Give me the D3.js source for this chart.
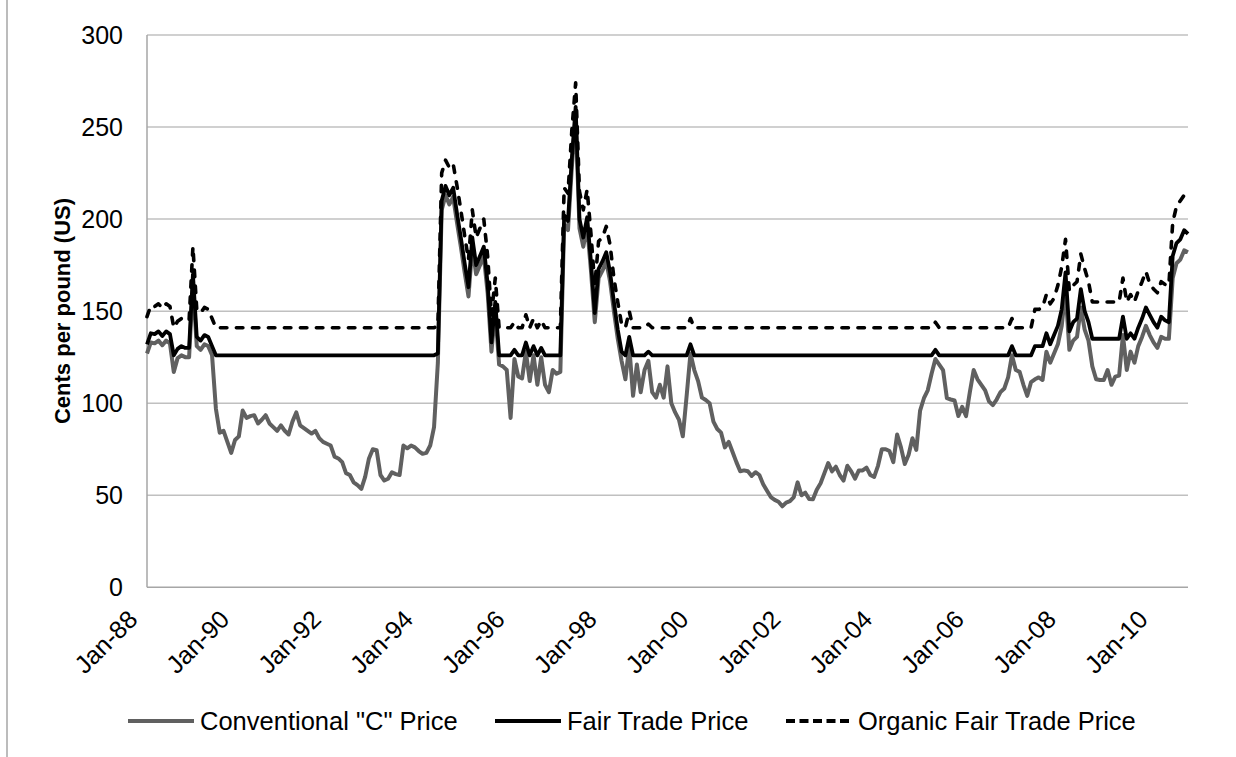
<!DOCTYPE html>
<html lang="en">
<head>
<meta charset="utf-8">
<title>Coffee prices</title>
<script src="https://d3js.org/d3.v7.min.js"></script>
<style>
body { margin: 0; background: #fff; }
svg { font-family: "Liberation Sans", Arial, sans-serif; }
.grid line { stroke: #c0c0c0; stroke-width: 1.5; }
.ylab text { font-size: 25px; fill: #000; }
.xlab text { font-size: 25px; fill: #000; }
.legend text { font-size: 25.5px; fill: #000; }
</style>
</head>
<body>
<script>
// monthly series, Jan 1988 .. Sep 2010 (cents per pound)
var conventional = [
  127, 133, 132.5, 134, 131.5, 134, 132.5, 117, 124.5, 126, 125, 125,   // 1988
  165, 131, 129, 132, 131, 126, 97, 84, 85, 79, 73, 80,                 // 1989
  82, 96, 92, 93, 93.5, 89, 91, 93.5, 89, 87, 85, 88,                   // 1990
  85, 83, 90, 95, 88, 86.5, 85, 83.5, 85, 81, 79, 78,                   // 1991
  77, 71, 70, 68, 62, 61, 57, 55.5, 53.5, 60, 70, 75,                   // 1992
  74.5, 61, 58, 59, 62.5, 61.5, 61, 77, 75.5, 77, 76, 74,               // 1993
  72.5, 73, 77, 87, 122, 205, 213, 208, 212, 198, 185, 171,             // 1994
  158, 185, 170, 175, 180, 160, 128, 150, 121, 120, 118, 92,            // 1995
  124, 114.5, 113.5, 128, 112, 126, 110, 125, 110, 106, 118, 116,       // 1996
  117, 197, 194, 228, 256, 195, 185, 196, 172, 144, 168, 172,           // 1997
  177, 166, 150, 135, 123, 113, 131, 104, 121, 106, 118, 123,           // 1998
  106, 103, 110, 103, 120, 100, 95, 91, 82, 104, 127, 118,              // 1999
  112, 103, 101.7, 100, 90, 86, 84, 76, 79, 73.5, 68, 63,               // 2000
  63.5, 63, 60.5, 62.5, 61, 56, 52.5, 49, 47.5, 46.5, 44, 46,           // 2001
  46.8, 49, 57, 50, 51.4, 48, 47.8, 53, 56.5, 62, 67.5, 63,             // 2002
  65.5, 61, 58, 66, 63, 59, 63.5, 63.5, 65, 61, 60, 66,                 // 2003
  75, 75, 74, 68, 83, 76, 67, 72, 81, 74.6, 96, 102.7,                  // 2004
  107, 116, 124, 121, 118, 102.7, 102, 101.5, 93, 98, 93, 106,          // 2005
  118, 113, 110, 107, 101, 99, 102, 106, 108, 114, 126, 118,            // 2006
  117, 110, 104, 111.5, 113, 114, 112.6, 128, 122, 127, 132, 142,       // 2007
  161, 129, 134, 136, 152, 140, 134, 120, 113, 112.6, 112.6, 118,       // 2008
  110, 114.4, 115, 137, 118, 128, 122, 131, 136, 142, 137, 133,         // 2009
  130, 136, 135, 135, 168, 176, 178, 183, 182                           // 2010
];

var fairTrade = [
  132, 138, 137.5, 139, 136.5, 139, 137.5, 126, 129.5, 131, 130, 130,   // 1988
  170, 136, 134, 137, 136, 131, 126, 126, 126, 126, 126, 126,           // 1989
  126, 126, 126, 126, 126, 126, 126, 126, 126, 126, 126, 126,           // 1990
  126, 126, 126, 126, 126, 126, 126, 126, 126, 126, 126, 126,           // 1991
  126, 126, 126, 126, 126, 126, 126, 126, 126, 126, 126, 126,           // 1992
  126, 126, 126, 126, 126, 126, 126, 126, 126, 126, 126, 126,           // 1993
  126, 126, 126, 126, 127, 210, 218, 213, 217, 203, 190, 176,           // 1994
  163, 190, 175, 180, 185, 165, 133, 155, 126, 126, 126, 126,           // 1995
  129, 126, 126, 133, 126, 131, 126, 130, 126, 126, 126, 126,           // 1996
  126, 202, 199, 233, 261, 200, 190, 201, 177, 149, 173, 177,           // 1997
  182, 171, 155, 140, 128, 126, 136, 126, 126, 126, 126, 128,           // 1998
  126, 126, 126, 126, 126, 126, 126, 126, 126, 126, 132, 126,           // 1999
  126, 126, 126, 126, 126, 126, 126, 126, 126, 126, 126, 126,           // 2000
  126, 126, 126, 126, 126, 126, 126, 126, 126, 126, 126, 126,           // 2001
  126, 126, 126, 126, 126, 126, 126, 126, 126, 126, 126, 126,           // 2002
  126, 126, 126, 126, 126, 126, 126, 126, 126, 126, 126, 126,           // 2003
  126, 126, 126, 126, 126, 126, 126, 126, 126, 126, 126, 126,           // 2004
  126, 126, 129, 126, 126, 126, 126, 126, 126, 126, 126, 126,           // 2005
  126, 126, 126, 126, 126, 126, 126, 126, 126, 126, 131, 126,           // 2006
  126, 126, 126, 126, 131, 131, 131, 138, 132, 137, 142, 151,           // 2007
  171, 139, 144, 146, 162, 150, 144, 135, 135, 135, 135, 135,           // 2008
  135, 135, 135, 147, 135, 138, 135, 141, 146, 152, 148, 144,           // 2009
  141, 147, 145, 144, 180, 187, 189, 194, 192                           // 2010
];

var organic = [
  147, 153, 152.5, 154, 151.5, 154, 152.5, 141, 144.5, 146, 145, 145,   // 1988
  185, 151, 149, 152, 151, 146, 141, 141, 141, 141, 141, 141,           // 1989
  141, 141, 141, 141, 141, 141, 141, 141, 141, 141, 141, 141,           // 1990
  141, 141, 141, 141, 141, 141, 141, 141, 141, 141, 141, 141,           // 1991
  141, 141, 141, 141, 141, 141, 141, 141, 141, 141, 141, 141,           // 1992
  141, 141, 141, 141, 141, 141, 141, 141, 141, 141, 141, 141,           // 1993
  141, 141, 141, 141, 142, 225, 232, 228, 230, 218, 205, 191,           // 1994
  178, 205, 190, 195, 200, 180, 148, 168, 141, 141, 141, 141,           // 1995
  144, 141, 141, 148, 141, 146, 141, 145, 141, 141, 141, 141,           // 1996
  141, 217, 214, 248, 274, 215, 205, 216, 192, 164, 188, 190,           // 1997
  196, 186, 168, 155, 143, 141, 150, 141, 141, 141, 141, 143,           // 1998
  141, 141, 141, 141, 141, 141, 141, 141, 141, 141, 146, 141,           // 1999
  141, 141, 141, 141, 141, 141, 141, 141, 141, 141, 141, 141,           // 2000
  141, 141, 141, 141, 141, 141, 141, 141, 141, 141, 141, 141,           // 2001
  141, 141, 141, 141, 141, 141, 141, 141, 141, 141, 141, 141,           // 2002
  141, 141, 141, 141, 141, 141, 141, 141, 141, 141, 141, 141,           // 2003
  141, 141, 141, 141, 141, 141, 141, 141, 141, 141, 141, 141,           // 2004
  141, 141, 144, 141, 141, 141, 141, 141, 141, 141, 141, 141,           // 2005
  141, 141, 141, 141, 141, 141, 141, 141, 141, 141, 146, 141,           // 2006
  141, 141, 141, 141, 151, 151, 152, 159, 154, 157, 164, 174,           // 2007
  189, 161, 164, 166, 181, 173, 166, 155, 155, 155, 155, 155,           // 2008
  155, 155, 155, 168, 155, 159, 155, 161, 166, 171.5, 165, 162,         // 2009
  160, 166, 164.5, 164, 198, 207, 210, 213, 215                         // 2010
];

// one label every 24 months
var tickLabels = ["Jan-88", "Jan-90", "Jan-92", "Jan-94", "Jan-96", "Jan-98",
                  "Jan-00", "Jan-02", "Jan-04", "Jan-06", "Jan-08", "Jan-10"];
var yTicks = [0, 50, 100, 150, 200, 250, 300];

var seriesNames = ["Conventional \"C\" Price", "Fair Trade Price", "Organic Fair Trade Price"];

var svg = d3.select("body").append("svg")
  .attr("width", 1236)
  .attr("height", 757);

var x = d3.scaleLinear().domain([0, conventional.length - 1]).range([147, 1188]);
var y = d3.scaleLinear().domain([0, 300]).range([587.3, 35]);

// outer frame, left edge only visible
svg.append("line")
  .attr("x1", 7).attr("x2", 7).attr("y1", 0).attr("y2", 757)
  .attr("stroke", "#a6a6a6").attr("stroke-width", 1.5);

// gridlines
svg.append("g").attr("class", "grid")
  .selectAll("line")
  .data(yTicks.slice(1))
  .enter().append("line")
  .attr("x1", x(0)).attr("x2", x(conventional.length - 1))
  .attr("y1", function(d) { return y(d); })
  .attr("y2", function(d) { return y(d); });

// axes lines
svg.append("line")
  .attr("x1", x(0)).attr("x2", x(conventional.length - 1))
  .attr("y1", y(0)).attr("y2", y(0))
  .attr("stroke", "#a6a6a6").attr("stroke-width", 1.5);
svg.append("line")
  .attr("x1", x(0)).attr("x2", x(0))
  .attr("y1", y(0)).attr("y2", y(300))
  .attr("stroke", "#a6a6a6").attr("stroke-width", 1.5);

// y tick labels
svg.append("g").attr("class", "ylab")
  .selectAll("text")
  .data(yTicks)
  .enter().append("text")
  .attr("x", 123)
  .attr("y", function(d) { return y(d); })
  .attr("dy", "0.35em")
  .attr("text-anchor", "end")
  .text(function(d) { return d; });

// x tick labels, rotated
svg.append("g").attr("class", "xlab")
  .selectAll("text")
  .data(tickLabels)
  .enter().append("text")
  .attr("text-anchor", "end")
  .attr("transform", function(d, i) {
    return "translate(" + (x(i * 24) - 8) + "," + 621 + ") rotate(-45)";
  })
  .text(function(d) { return d; });

// y axis title
svg.append("text")
  .attr("transform", "translate(70,311) rotate(-90)")
  .attr("text-anchor", "middle")
  .attr("font-size", 22)
  .attr("font-weight", "bold")
  .text("Cents per pound (US)");

var line = d3.line()
  .x(function(d, i) { return x(i); })
  .y(function(d) { return y(d); });

svg.append("path")
  .datum(conventional)
  .attr("d", line)
  .attr("fill", "none")
  .attr("stroke", "#606060")
  .attr("stroke-width", 4)
  .attr("stroke-linejoin", "round");

svg.append("path")
  .datum(fairTrade)
  .attr("d", line)
  .attr("fill", "none")
  .attr("stroke", "#000")
  .attr("stroke-width", 3.8)
  .attr("stroke-linejoin", "round");

svg.append("path")
  .datum(organic)
  .attr("d", line)
  .attr("fill", "none")
  .attr("stroke", "#000")
  .attr("stroke-width", 3.6)
  .attr("stroke-dasharray", "6.5,9.5")
  .attr("stroke-linecap", "round")
  .attr("stroke-linejoin", "round");

// legend
var legendX = [128, 495, 786];
var legend = svg.append("g").attr("class", "legend");
legend.selectAll("line")
  .data(seriesNames)
  .enter().append("line")
  .attr("x1", function(d, i) { return legendX[i]; })
  .attr("x2", function(d, i) { return legendX[i] + 66; })
  .attr("y1", 721).attr("y2", 721)
  .attr("stroke", function(d, i) { return i == 0 ? "#606060" : "#000"; })
  .attr("stroke-width", 4)
  .attr("stroke-dasharray", function(d, i) { return i == 2 ? "9,4.5" : null; });
legend.selectAll("text")
  .data(seriesNames)
  .enter().append("text")
  .attr("x", function(d, i) { return legendX[i] + 72; })
  .attr("y", 730)
  .text(function(d) { return d; });
</script>
</body>
</html>
